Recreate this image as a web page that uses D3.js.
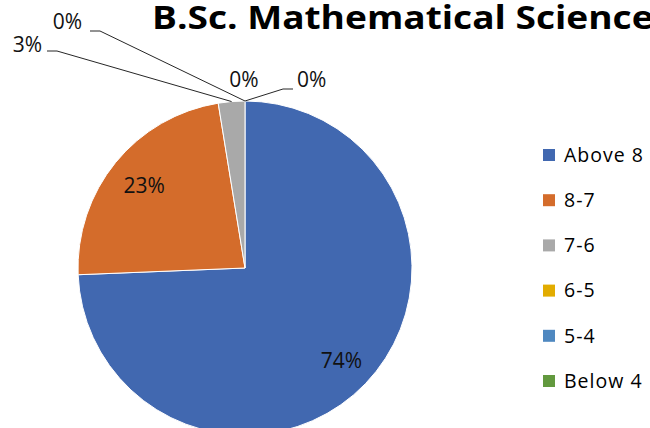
<!DOCTYPE html>
<html>
<head>
<meta charset="utf-8">
<script src="https://cdn.jsdelivr.net/npm/d3@7"></script>
<style>
  html, body { margin: 0; padding: 0; background: #fff; }
  svg { display: block; }
  text { font-family: "Open Sans", "Liberation Sans", sans-serif; }
</style>
</head>
<body>
<div id="chart"></div>
<script>
(function() {
    'use strict';

    // chart data
    var categories = ['Above 8', '8-7', '7-6', '6-5', '5-4', 'Below 4'];
    var counts = [29, 9, 1, 0, 0, 0];
    var colors = ['#4168b0', '#d46c2b', '#a9a9a9', '#e2ac00', '#4f88c0', '#62993e'];
    var titleText = 'B.Sc. Mathematical Sciences';

    var width = 650, height = 428;
    var cx = 245, cy = 268, radius = 167;

    var svg = d3.select('#chart').append('svg')
        .attr('width', width)
        .attr('height', height);

    var total = d3.sum(counts);
    var data = categories.map(function(c, i) {
        return { name: c, value: counts[i], color: colors[i] };
    });

    var pie = d3.pie()
        .sort(null)
        .value(function(d) { return d.value; });
    var arcs = pie(data);

    var arc = d3.arc().innerRadius(0).outerRadius(radius);

    var g = svg.append('g')
        .attr('transform', 'translate(' + cx + ',' + cy + ')');

    g.selectAll('path.slice')
        .data(arcs)
        .enter().append('path')
        .attr('class', 'slice')
        .attr('d', arc)
        .style('fill', function(d) { return d.data.color; })
        .style('stroke', '#fff')
        .style('stroke-width', function(d) { return d.value > 0 ? 1 : 0; });

    function pct(d) {
        return Math.round(100 * d.value / total) + '%';
    }

    function edgePoint(d) {
        var a = (d.startAngle + d.endAngle) / 2;
        return [Math.sin(a) * radius, -Math.cos(a) * radius];
    }

    // label placement (relative to pie centre): inside labels sit on the mid-angle,
    // the small slices get an outside label with an elbowed leader line
    var labelLayout = [
        { inside: 0.8 },
        { inside: 0.78 },
        { lx: -203, ly: -223, elbow: [-188, -217], anchor: 'end' },
        { lx: -163, ly: -246, elbow: [-145, -237], anchor: 'end' },
        { lx: -1, ly: -188, anchor: 'middle' },
        { lx: 52, ly: -188, elbow: [38, -179], anchor: 'start' }
    ];

    var labelFont = 21;

    arcs.forEach(function(d, i) {
        var lay = labelLayout[i];
        if (lay.inside) {
            var a = (d.startAngle + d.endAngle) / 2;
            g.append('text')
                .attr('x', Math.sin(a) * radius * lay.inside)
                .attr('y', -Math.cos(a) * radius * lay.inside)
                .attr('dy', '0.35em')
                .attr('text-anchor', 'middle')
                .style('font-size', labelFont + 'px')
                .style('fill', '#111')
                .text(pct(d));
            return;
        }
        if (lay.elbow) {
            var p = edgePoint(d);
            var tip = lay.anchor === 'end' ? lay.elbow[0] - 10 : lay.elbow[0] + 10;
            g.append('path')
                .attr('d', d3.line()([p, lay.elbow, [tip, lay.elbow[1]]]))
                .style('fill', 'none')
                .style('stroke', '#262626')
                .style('stroke-width', 1);
        }
        g.append('text')
            .attr('x', lay.lx)
            .attr('y', lay.ly)
            .attr('dy', '0.35em')
            .attr('text-anchor', lay.anchor)
            .style('font-size', labelFont + 'px')
            .style('fill', '#111')
            .text(pct(d));
    });

    // title (runs past the right edge, as in the original)
    svg.append('text')
        .attr('x', 152)
        .attr('y', 29)
        .attr('text-anchor', 'start')
        .attr('textLength', 520)
        .attr('lengthAdjust', 'spacingAndGlyphs')
        .style('font-size', '33px')
        .style('font-weight', 'bold')
        .style('fill', '#000')
        .text(titleText);

    // legend
    var legend = svg.append('g')
        .attr('transform', 'translate(543,155)');

    var item = legend.selectAll('g')
        .data(data)
        .enter().append('g')
        .attr('transform', function(d, i) { return 'translate(0,' + i * 45.2 + ')'; });

    item.append('rect')
        .attr('x', 0)
        .attr('y', -6)
        .attr('width', 12)
        .attr('height', 12)
        .style('fill', function(d) { return d.color; });

    item.append('text')
        .attr('x', 21)
        .attr('y', 0)
        .attr('dy', '0.35em')
        .style('font-size', '19.5px')
        .style('letter-spacing', '1px')
        .style('fill', '#000')
        .text(function(d) { return d.name; });
})();
</script>
</body>
</html>
